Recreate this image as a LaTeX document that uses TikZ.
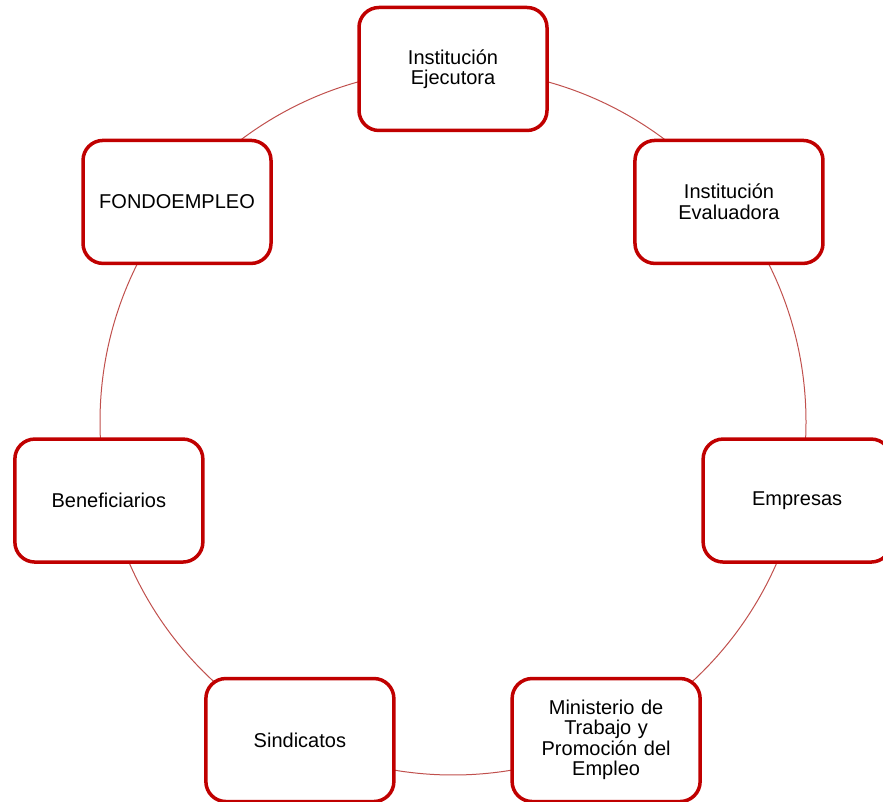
\documentclass[tikz,border=0pt]{standalone}
\usepackage{fontspec}
\setmainfont{Liberation Sans}
\usepackage{tikz}
\usetikzlibrary{calc}
\definecolor{boxred}{HTML}{C00000}
\definecolor{ringred}{HTML}{C0504D}
\tikzset{
  font={\fontsize{20pt}{20.5pt}\selectfont}}

\begin{document}
\begin{tikzpicture}[x=1pt,y=1pt]
\tikzstyle{actor}=[draw=boxred, line width=3.5pt, fill=white, rounded corners=20pt,
  minimum width=188pt, minimum height=123pt, align=center, text width=170pt]
\useasboundingbox (0,0) rectangle (883,802);
\coordinate (c) at (453,380);
\draw [ringred, line width=1pt] (c) circle (353);
\node [actor] (ejec) at ($(c)+(90:353)$) {Institución\\Ejecutora};
\node [actor] (eval) at ($(c)+(38.57:353)$) {Institución\\Evaluadora};
\node [actor] (emp) at ($(c)+(-12.86:353)$) {Empresas};
\node [actor] (mtpe) at ($(c)+(-64.29:353)$) {Ministerio de\\Trabajo y\\Promoción del\\Empleo};
\node [actor] (sind) at ($(c)+(-115.71:353)$) {Sindicatos};
\node [actor] (benef) at ($(c)+(-167.14:353)$) {Beneficiarios};
\node [actor] (fondo) at ($(c)+(141.43:353)$) {FONDOEMPLEO};
\end{tikzpicture}
\end{document}
